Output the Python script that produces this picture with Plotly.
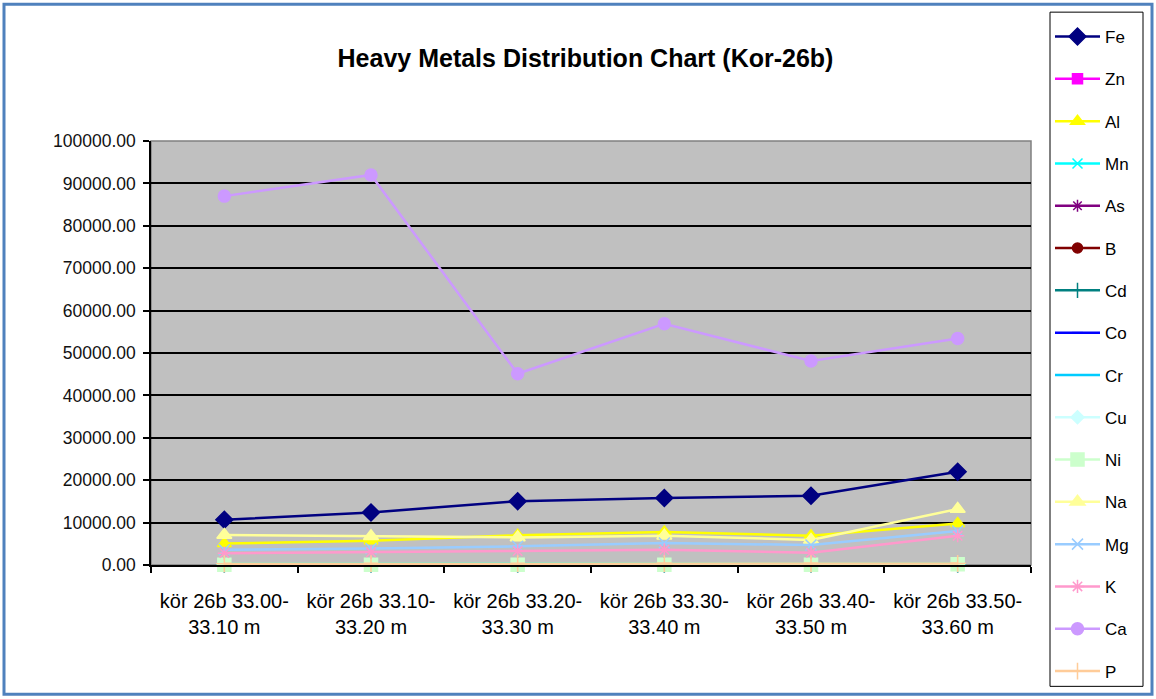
import plotly.graph_objects as go

# Sample intervals (core Kor-26b)
categories = [
    "kör 26b 33.00-<br>33.10 m",
    "kör 26b 33.10-<br>33.20 m",
    "kör 26b 33.20-<br>33.30 m",
    "kör 26b 33.30-<br>33.40 m",
    "kör 26b 33.40-<br>33.50 m",
    "kör 26b 33.50-<br>33.60 m",
]

# Element concentrations per interval
fe = [10650, 12400, 15050, 15800, 16350, 22000]
zn = [60, 55, 65, 60, 55, 70]
al = [5050, 5700, 7000, 7800, 6900, 9800]
mn = [300, 280, 320, 310, 290, 380]
as_ = [5, 5, 6, 5, 5, 6]
b = [20, 22, 25, 24, 20, 28]
cd = [1, 1, 1, 1, 1, 1]
co = [10, 11, 12, 12, 10, 14]
cr = [30, 32, 35, 34, 30, 40]
cu = [25, 26, 28, 27, 24, 30]
ni = [40, 42, 45, 44, 40, 150]
na = [7100, 6800, 6500, 6900, 5900, 13200]
mg = [3600, 3900, 4400, 5200, 4700, 8000]
k = [2800, 3000, 3300, 3600, 2900, 6900]
ca = [87000, 92000, 45100, 56900, 48100, 53400]
p = [300, 320, 310, 330, 300, 350]

y_ticks = [0, 10000, 20000, 30000, 40000, 50000, 60000, 70000, 80000, 90000, 100000]

series = [
    ("Fe", fe, "#000080", "diamond", 13),
    ("Zn", zn, "#FF00FF", "square", 10),
    ("Al", al, "#FFFF00", "triangle-up", 12),
    ("Mn", mn, "#00FFFF", "x-thin-open", 10),
    ("As", as_, "#800080", "asterisk-open", 10),
    ("B", b, "#800000", "circle", 10),
    ("Cd", cd, "#008080", "cross-thin-open", 11),
    ("Co", co, "#0000FF", "line-ew-open", 8),
    ("Cr", cr, "#00CCFF", "line-ew-open", 12),
    ("Cu", cu, "#CCFFFF", "diamond", 10),
    ("Ni", ni, "#CCFFCC", "square", 13),
    ("Na", na, "#FFFF99", "triangle-up", 13),
    ("Mg", mg, "#99CCFF", "x-thin-open", 11),
    ("K", k, "#FF99CC", "asterisk-open", 11),
    ("Ca", ca, "#CC99FF", "circle", 12),
    ("P", p, "#FFCC99", "cross-thin-open", 12),
]

fig = go.Figure()
for name, vals, color, symbol, size in series:
    fig.add_trace(go.Scatter(
        x=categories, y=vals, name=name, mode="lines+markers",
        line=dict(color=color, width=2.5),
        marker=dict(symbol=symbol, size=size, color=color,
                    line=dict(color=color, width=1.5)),
        cliponaxis=False, legendgroup=name,
    ))

# plot-area geometry in pixels
W, H = 1156, 699
L, R, T, B = 151, 1031, 141, 565.5
pw, ph = R - L, B - T

def px_x(x):
    return (x - L) / pw

def px_y(y):
    return (B - y) / ph

fig.update_layout(
    width=W, height=H,
    margin=dict(l=L, r=W - R, t=T, b=H - B, pad=0, autoexpand=False),
    paper_bgcolor="white",
    plot_bgcolor="#C0C0C0",
    font=dict(family="Liberation Sans, Arial, sans-serif", color="black"),
    title=dict(
        text="<b>Heavy Metals Distribution Chart (Kor-26b)</b>",
        font=dict(size=25, color="black"),
        x=585.5 / W, xref="container", xanchor="center",
        y=1 - 58 / H, yref="container", yanchor="middle",
    ),
    xaxis=dict(
        type="category", showgrid=False, automargin=False,
        showline=True, linecolor="black", linewidth=1.5,
        ticks="outside", ticklen=6, tickcolor="black", tickwidth=1.5,
        tickson="boundaries", ticklabelstandoff=17,
        tickfont=dict(size=20, color="black"),
        range=[-0.5, 5.5],
    ),
    yaxis=dict(
        range=[0, 100000], tickvals=y_ticks, tickformat=".2f",
        automargin=False,
        showgrid=True, gridcolor="black", gridwidth=1.5,
        zeroline=False,
        showline=True, linecolor="black", linewidth=1.5,
        ticks="outside", ticklen=6, tickcolor="black", tickwidth=1.5,
        ticklabelstandoff=4,
        tickfont=dict(size=17.5, color="#111111"),
    ),
    legend=dict(
        x=px_x(1050), y=1 - 19 / H, xanchor="left", yanchor="top",
        yref="container", maxheight=690,
        bgcolor="rgba(0,0,0,0)", borderwidth=0,
        font=dict(size=17, color="black"),
        tracegroupgap=17.2, itemwidth=45,
    ),
    shapes=[
        # plot-area frame
        dict(type="rect", xref="paper", yref="paper", x0=0, x1=1, y0=0, y1=1,
             line=dict(color="#808080", width=1.5), layer="below"),
        # legend box
        dict(type="rect", xref="paper", yref="paper",
             x0=px_x(1050), x1=px_x(1143), y0=px_y(687), y1=px_y(12),
             line=dict(color="black", width=1), fillcolor="white", layer="below"),
        # outer chart border
        dict(type="rect", xref="paper", yref="paper",
             x0=px_x(4), x1=px_x(1152), y0=px_y(695), y1=px_y(4),
             line=dict(color="#4F81BD", width=3), layer="above"),
    ],
)

fig.write_html("out.html")
